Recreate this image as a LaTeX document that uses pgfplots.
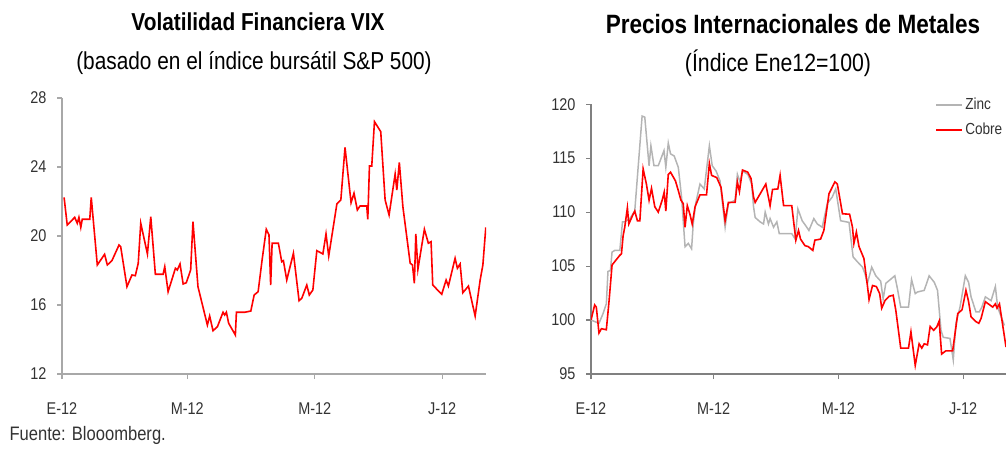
\documentclass[border=0pt]{standalone}
\usepackage{fontspec}
\setmainfont{Liberation Sans}[FakeStretch=0.85]
\usepackage{pgfplots}
\pgfplotsset{compat=1.18}
\definecolor{zincgray}{HTML}{B4B4B4}
\definecolor{axgray}{HTML}{A8A8A8}
\definecolor{lblgray}{HTML}{333333}

\pgfplotsset{
  panel/.style={
    scale only axis,
    axis x line*=bottom, axis y line*=left,
    axis line style={axgray, line width=1.4pt},
    tick style={axgray, line width=1.2pt},
    tick align=outside, major tick length=5pt,
    xtick={0,60,121,182}, xticklabels={E-12,M-12,M-12,J-12},
    xmin=0, xmax=203,
    ticklabel style={font=\fontsize{17}{19}\selectfont, text=lblgray},
    xticklabel style={yshift=-20pt},
    yticklabel style={xshift=-7pt},
    /pgf/number format/assume math mode=true,
  }
}

\begin{document}
\begin{tikzpicture}[x=1pt,y=1pt]
\path[use as bounding box] (0,0) rectangle (1006,448);

% titles
\node[font=\bfseries\fontsize{24.5}{28}\selectfont] at (258,426) {Volatilidad Financiera VIX};
\node[font=\fontsize{24.5}{28}\selectfont] at (254,385) {(basado en el índice bursátil S\&P 500)};
\node[font=\bfseries\fontsize{26.5}{30}\selectfont] at (793,424) {Precios Internacionales de Metales};
\node[font=\fontsize{25}{28}\selectfont] at (778,385) {(Índice Ene12=100)};
\node[anchor=west, font=\fontsize{19.5}{22}\selectfont, text=lblgray] at (6,13) {Fuente: Blooomberg.};

% VIX
\begin{axis}[panel, at={(62pt,74pt)}, anchor=south west, width=424pt, height=276pt,
  ymin=12, ymax=28, ytick={12,16,20,24,28}]
\addplot[red, line width=1.6pt] coordinates {
(1,22.24) (2.5,20.64) (6.1,21.08) (7.3,20.74) (8.1,21.08) (9.0,20.5) (9.7,20.97)
(13.3,20.97) (14.0,22.24) (16.9,18.32) (20.4,18.94) (21.7,18.32) (23.9,18.57)
(27.3,19.48) (28.1,19.38) (31.1,17.06) (33.5,17.74) (35.1,17.70) (36.5,18.42)
(37.7,20.74) (40.9,18.96) (42.5,21.12) (44.7,17.78) (48.4,17.78) (49.2,18.22)
(50.8,16.77) (54.3,18.13) (55.2,18.03) (56.5,18.38) (58.0,17.22) (59.5,17.29)
(61.6,18.03) (62.7,20.83) (65.1,17.06) (69.6,14.84) (70.7,15.36) (72.3,14.51)
(74.4,14.74) (77.1,15.58) (77.9,15.42) (78.7,15.58) (79.8,14.94) (83.0,14.26)
(83.5,15.58) (87.5,15.58) (90.4,15.65) (92.0,16.58) (93.9,16.77) (95.8,18.61)
(97.8,20.39) (99.1,20.06) (99.9,17.16) (100.6,19.58) (103.6,19.58) (105.2,18.51)
(106.0,18.57) (107.6,17.45) (110.8,19.0) (113.5,16.25) (114.8,16.39) (117.2,17.16)
(118.4,16.58) (120.1,16.87) (122.0,19.15) (124.9,18.96) (126.4,20.12) (127.7,18.84)
(131.6,21.86) (133.5,22.09) (135.5,25.14) (138.4,21.93) (139.8,22.48) (141.4,21.51)
(142.7,21.74) (145.9,21.74) (146.4,20.97) (147.2,24.06) (148.3,24.06) (149.6,26.63)
(152.6,26.05) (154.7,22.09) (156.6,21.22) (159.5,23.59) (160.3,22.67) (161.5,24.27)
(163.2,21.70) (166.7,18.42) (167.8,18.32) (168.7,17.26) (169.4,20.12) (170.4,18.07)
(173.5,20.39) (175.4,19.58) (176.7,19.67) (177.5,17.16) (181.8,16.62) (183.9,17.45)
(185.0,17.10) (188.2,18.71) (189.3,18.13) (190.6,18.38) (191.9,16.71) (194.6,17.10)
(195.9,16.39) (197.8,15.36) (200.2,17.45) (201.5,18.32) (202.9,20.5)
};
\end{axis}

% Metales
\begin{axis}[panel, at={(591pt,74pt)}, anchor=south west, width=415pt, height=269.8pt,
  ymin=95, ymax=120, ytick={95,100,...,120},
  axis line style={gray, line width=1.2pt}, tick style={gray, line width=1.1pt},
  legend style={at={(0.83,1.03)}, anchor=north west, draw=none, fill=none,
    font=\fontsize{16}{18}\selectfont, text=lblgray, row sep=8pt,
    inner sep=0pt, cells={anchor=west}},
  legend image code/.code={\draw[#1, line width=1.6pt] (0pt,0pt) -- (26pt,0pt);}]
\addplot[zincgray, line width=1.5pt] coordinates {
(0,100.0) (3.9,99.7) (5.9,100.6) (7.5,101.5) (8.3,104.5) (9.5,104.6) (10.3,106.3)
(11.6,106.45) (14.1,106.45) (15.4,109.1) (16.5,109.1) (19.0,109.4) (21.4,110.1)
(25.0,118.9) (26.3,118.8) (28.4,114.3) (29.3,116.15) (30.8,114.3) (32.9,114.3)
(35.7,115.7) (36.6,114.15) (37.8,116.4) (38.9,115.4) (40.7,115.2) (42.7,114.15)
(44.3,111.4) (46.0,106.8) (47.6,107.1) (49.2,106.6) (50.0,108.9) (51.2,110.8)
(53.3,112.6) (55.4,112.15) (57.9,116.15) (59.3,114.3) (61.2,113.8) (63.1,112.9)
(65.6,108.6) (67.2,110.8) (70.5,111.1) (71.6,113.5) (72.9,112.8) (74.1,113.8)
(76.7,113.5) (78.6,112.6) (79.5,110.5) (80.3,109.5) (82.7,109.1) (84.4,108.9)
(85.2,110.0) (86.8,108.9) (87.6,109.4) (89.3,108.6) (90.9,109.1) (92.1,108.0)
(98.2,108.0) (99.9,107.5) (101.2,110.3) (103.3,109.2) (105.0,108.75) (106.6,108.3)
(109.0,109.4) (110.7,108.9) (113.1,108.6) (115.6,110.8) (118.0,111.4) (119.7,112.15)
(122.1,109.2) (126.2,109.05) (128.2,105.85) (130.3,105.4) (132.8,104.9) (134.0,104.3)
(135.2,103.4) (137.3,104.9) (139.3,104.1) (141.7,103.6) (142.9,101.95) (144.2,103.4)
(148.6,104.1) (149.9,102.9) (151.5,101.2) (155.3,101.2) (156.8,103.75) (158.6,102.45)
(159.7,102.6) (163.0,102.75) (165.4,104.1) (167.9,103.5) (169.5,102.75) (171.2,99.05)
(172.3,98.4) (175.6,98.3) (177.2,96.3) (178.5,99.7) (180.5,101.2) (183.1,104.1)
(184.7,103.5) (185.9,102.15) (188.3,100.75) (189.9,100.75) (191.2,101.2) (192.9,102.15)
(195.7,101.8) (197.8,103.1) (198.9,101.2) (202.2,99.5)
};
\addlegendentry{Zinc}
\addplot[red, line width=1.6pt] coordinates {
(0,100.0) (1.8,101.4) (2.6,101.2) (3.9,98.8) (5.1,99.2) (7.5,99.1) (8.8,101.7)
(10.3,105.1) (14.1,106.0) (14.9,106.15) (15.7,107.8) (16.5,108.6) (17.8,110.4)
(18.5,108.9) (20.6,109.8) (21.4,110.1) (22.7,109.2) (23.9,109.2) (25.5,114.0)
(27.1,112.6) (28.4,111.1) (29.6,112.2) (31.2,110.5) (32.9,110.0) (34.8,111.1)
(35.8,111.85) (36.6,110.1) (37.8,113.5) (38.9,113.7) (41.3,112.9) (42.7,112.0)
(44.0,111.1) (45.1,110.8) (46.0,108.6) (47.1,110.6) (48.4,109.8) (49.5,108.9)
(50.9,110.5) (53.3,111.6) (56.5,111.6) (57.9,114.5) (59.0,113.4) (61.5,113.2)
(63.6,112.3) (65.6,109.2) (67.2,110.9) (70.5,110.9) (71.6,112.8) (72.6,111.9)
(74.1,113.9) (76.7,113.7) (78.3,113.1) (79.5,111.4) (80.3,110.9) (85.5,112.6)
(87.6,110.6) (88.8,112.1) (91.4,112.15) (92.5,113.4) (94.2,110.6) (98.2,110.6)
(100.2,107.4) (101.5,108.3) (102.5,107.5) (104.6,106.9) (106.3,106.8) (108.5,106.45)
(109.5,107.4) (112.3,107.5) (113.9,108.3) (116.4,111.7) (119.3,112.8) (120.5,112.6)
(123.0,109.85) (126.5,109.8) (127.9,108.6) (128.6,107.1) (129.8,108.15) (131.1,106.8)
(133.5,105.7) (135.2,103.2) (136.0,101.9) (137.7,103.2) (139.6,103.1) (141.2,102.45)
(142.2,101.1) (143.8,101.8) (145.8,102.2) (147.8,102.3) (149.1,100.9) (151.5,97.4)
(155.3,97.4) (156.5,98.9) (158.6,95.8) (160.5,97.8) (161.8,97.4) (163.0,97.8)
(164.6,97.7) (165.9,99.4) (167.6,99.05) (169.1,99.35) (170.3,99.9) (171.5,96.85)
(173.6,97.15) (176.9,97.15) (179.4,100.6) (181.5,100.95) (183.4,102.75) (184.6,101.8)
(185.9,100.3) (188.3,99.85) (189.7,99.7) (190.8,100.15) (192.9,101.7) (196.5,101.2)
(197.8,101.5) (198.6,101.1) (199.8,101.5) (202.2,98.5) (203,97.5)
};
\addlegendentry{Cobre}
\end{axis}
\end{tikzpicture}
\end{document}
